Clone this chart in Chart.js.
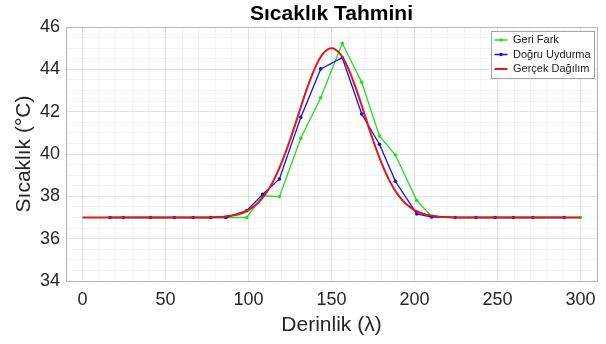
<!DOCTYPE html>
<html lang="tr">
<head>
<meta charset="utf-8">
<title>Sıcaklık Tahmini</title>
<script src="https://cdn.jsdelivr.net/npm/chart.js@4.4.1/dist/chart.umd.min.js"></script>
<style>
  html, body { margin: 0; padding: 0; background: #fff; }
  #wrap { width: 606px; height: 344px; }
</style>
</head>
<body>
<div id="wrap"><canvas id="chart-sicaklik" width="606" height="344"></canvas></div>
<script>
// Geri Fark noktaları (derinlik / sıcaklık)
const geriFarkDepths = [16.5, 24.5, 41, 55.3, 66.7, 77.2, 86.4, 98.9, 108.6, 118.6, 131.5, 143.5,
  156.5, 168.2, 178.9, 188.5, 201.4, 210.4, 224.5, 237.1, 248.6, 259.6, 271.3, 290.2, 300];
const geriFarkTemps = [37, 37, 37, 37, 37, 37, 37, 37.0, 38.03, 37.98, 40.74, 42.66,
  45.23, 43.39, 40.85, 39.95, 37.8, 37.05, 37, 37, 37, 37, 37, 37, 37];

// Doğru Uydurma noktaları
const dogruDepths = [16.5, 24.5, 41, 55.3, 66.7, 77.2, 86.4, 98.9, 108.6, 118.6, 131.5, 143.5,
  156.5, 168.2, 178.9, 188.5, 201.4, 210.4, 224.5, 237.1, 248.6, 259.6, 271.3, 290.2];
const dogruTemps = [37, 37, 37, 37, 37, 37, 37.0, 37.32, 38.10, 38.82, 41.73, 44.02,
  44.55, 41.89, 40.46, 38.71, 37.17, 37.02, 37, 37, 37, 37, 37, 37];

// Gerçek dağılım eğrisi
const gercekDepths = [0, 5, 10, 15, 20, 25, 30, 35, 40, 45, 50, 55, 60, 65, 70, 75, 80, 85, 90, 95,
  100, 105, 110, 115, 120, 125, 130, 135, 140, 145, 150, 155, 160, 165, 170, 175, 180, 185, 190, 195,
  200, 205, 210, 215, 220, 225, 230, 235, 240, 245, 250, 255, 260, 265, 270, 275, 280, 285, 290, 295, 300];
const gercekTemps = [37, 37, 37, 37, 37, 37, 37, 37, 37, 37, 37, 37, 37, 37, 37, 37, 37.02, 37.04, 37.09, 37.18,
  37.35, 37.64, 38.08, 38.73, 39.60, 40.66, 41.85, 43.04, 44.06, 44.75, 45.00, 44.75, 44.06, 43.04, 41.85, 40.66, 39.60, 38.73, 38.08, 37.64,
  37.35, 37.18, 37.09, 37.04, 37.02, 37, 37, 37, 37, 37, 37, 37, 37, 37, 37, 37, 37, 37, 37, 37, 37];

// Eksen etiketleri
const xTickLabels = [0, 50, 100, 150, 200, 250, 300];
const yTickLabels = [34, 36, 38, 40, 42, 44, 46];

const toPoints = (xs, ys) => xs.map((x, i) => ({ x, y: ys[i] }));

const GRID_MAJOR = 'rgba(0, 0, 0, 0.11)';
const GRID_MINOR = 'rgba(0, 0, 0, 0.045)';
const BOX_COLOR = '#b8b8b8';
const TEXT_COLOR = '#262626';

Chart.defaults.font.family = "'Liberation Sans', Arial, Helvetica, sans-serif";

// Lejant grafik alanının sağ üst köşesinde, çerçeveli
const legendBoxPlugin = {
  id: 'legendBox',
  afterLayout(chart) {
    const lg = chart.legend;
    const ca = chart.chartArea;
    const pad = lg.options.labels.padding;
    const boxW = lg.columnSizes[0].width + pad * 2;
    const boxH = lg.columnSizes[0].height + pad;
    lg.left = Math.round(ca.right - boxW - 3);
    lg.top = Math.round(ca.top + 4);
    lg.width = boxW;
    lg.height = boxH;
    lg.right = lg.left + boxW;
    lg.bottom = lg.top + boxH;
  },
  afterDraw(chart) {
    const lg = chart.legend;
    const ctx = chart.ctx;
    ctx.save();
    ctx.fillStyle = '#fff';
    ctx.fillRect(lg.left, lg.top, lg.width, lg.height);
    ctx.strokeStyle = '#a3a3a3';
    ctx.lineWidth = 1;
    ctx.strokeRect(lg.left + 0.5, lg.top + 0.5, Math.round(lg.width), Math.round(lg.height));
    ctx.restore();
    lg.draw();

    // çizgi örneğinin ortasına nokta işareti
    const labels = lg.options.labels;
    const pad = labels.padding;
    const size = labels.font.size;
    lg.legendItems.forEach((item, i) => {
      const ds = chart.data.datasets[item.datasetIndex];
      if (!ds.pointRadius) return;
      const cx = lg.left + pad + labels.pointStyleWidth / 2;
      const cy = lg.top + pad + i * (size + pad) + size / 2;
      ctx.save();
      ctx.fillStyle = ds.borderColor;
      ctx.beginPath();
      ctx.arc(cx, cy, 1.8, 0, Math.PI * 2);
      ctx.fill();
      ctx.restore();
    });
  }
};

new Chart(document.getElementById('chart-sicaklik'), {
  type: 'line',
  data: {
    datasets: [
      {
        label: 'Geri Fark',
        data: toPoints(geriFarkDepths, geriFarkTemps),
        borderColor: '#22dd22',
        backgroundColor: '#22dd22',
        borderWidth: 1.3,
        pointRadius: 1.8,
        pointBorderWidth: 0,
        tension: 0,
        order: 3
      },
      {
        label: 'Doğru Uydurma',
        data: toPoints(dogruDepths, dogruTemps),
        borderColor: '#1010ee',
        backgroundColor: '#1010ee',
        borderWidth: 1.3,
        pointRadius: 1.8,
        pointBorderWidth: 0,
        tension: 0,
        order: 2
      },
      {
        label: 'Gerçek Dağılım',
        data: toPoints(gercekDepths, gercekTemps),
        borderColor: '#e81515',
        backgroundColor: '#e81515',
        borderWidth: 2,
        pointRadius: 0,
        cubicInterpolationMode: 'monotone',
        order: 1
      }
    ]
  },
  options: {
    responsive: false,
    animation: false,
    devicePixelRatio: 1,
    layout: { padding: 0 },
    plugins: {
      title: {
        display: true,
        text: 'Sıcaklık Tahmini',
        color: '#000',
        fullSize: false,
        font: { size: 21, weight: 'bold', lineHeight: 1.2 },
        padding: { top: 1.8, bottom: 0 }
      },
      legend: {
        position: 'chartArea',
        align: 'start',
        labels: {
          usePointStyle: true,
          pointStyle: 'line',
          pointStyleWidth: 13,
          padding: 3.5,
          color: '#1a1a1a',
          font: { size: 11 },
          sort: (a, b) => a.datasetIndex - b.datasetIndex,
          // örnek çizgi, veri serisinin çizgi kalınlığı ve rengiyle
          generateLabels: (chart) => Chart.defaults.plugins.legend.labels.generateLabels(chart).map((item) => {
            const ds = chart.data.datasets[item.datasetIndex];
            item.lineWidth = ds.borderWidth;
            item.strokeStyle = ds.borderColor;
            return item;
          })
        }
      },
      tooltip: { enabled: false }
    },
    scales: {
      x: {
        type: 'linear',
        position: 'bottom',
        min: -10,
        max: 310,
        afterFit: (scale) => { scale.height = 63; },
        ticks: {
          stepSize: 10,
          autoSkip: false,
          maxRotation: 0,
          padding: 8,
          color: TEXT_COLOR,
          font: { size: 18 },
          callback: (value) => xTickLabels.includes(value) ? value : ''
        },
        grid: {
          drawTicks: false,
          color: (ctx) => xTickLabels.includes(ctx.tick.value) ? GRID_MAJOR : GRID_MINOR
        },
        border: { color: BOX_COLOR },
        title: {
          display: true,
          text: 'Derinlik (λ)',
          color: TEXT_COLOR,
          font: { size: 21 },
          padding: { top: 0, bottom: 6 }
        }
      },
      y: {
        type: 'linear',
        position: 'left',
        min: 34,
        max: 46,
        afterFit: (scale) => { scale.width = 66; },
        ticks: {
          stepSize: 0.5,
          autoSkip: false,
          padding: 6,
          color: TEXT_COLOR,
          font: { size: 18 },
          callback: (value) => yTickLabels.includes(value) ? value : ''
        },
        grid: {
          drawTicks: false,
          color: (ctx) => yTickLabels.includes(ctx.tick.value) ? GRID_MAJOR : GRID_MINOR
        },
        border: { color: BOX_COLOR },
        title: {
          display: true,
          text: 'Sıcaklık (°C)',
          color: TEXT_COLOR,
          font: { size: 21 },
          padding: { top: 12, bottom: 0 }
        }
      },
      // üst ve sağ çerçeve çizgileri
      x2: {
        type: 'linear',
        position: 'top',
        afterFit: (scale) => { scale.height = 0; },
        ticks: { display: false },
        grid: { display: false, drawTicks: false },
        border: { color: BOX_COLOR }
      },
      y2: {
        type: 'linear',
        position: 'right',
        afterFit: (scale) => { scale.width = 9; },
        ticks: { display: false },
        grid: { display: false, drawTicks: false },
        border: { color: BOX_COLOR }
      }
    }
  },
  plugins: [legendBoxPlugin]
});
</script>
</body>
</html>
